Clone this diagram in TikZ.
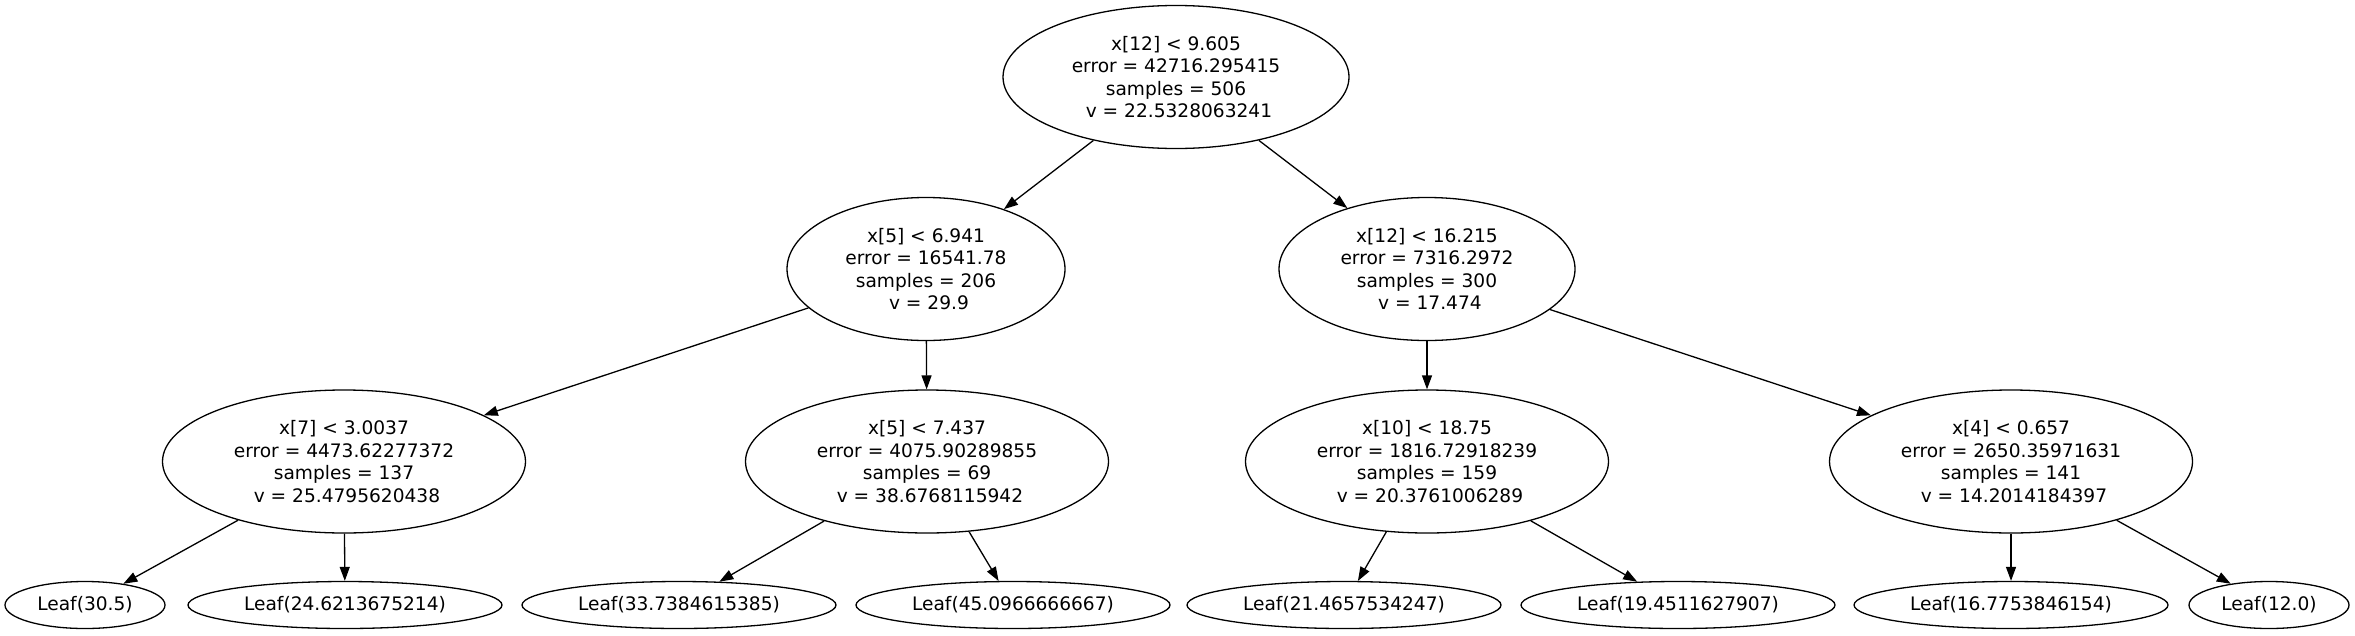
\documentclass[tikz,border=0pt]{standalone}
\usepackage{fontspec}
\setmainfont{DejaVu Sans}
\usetikzlibrary{shapes.geometric,arrows.meta}
\begin{document}
\begin{tikzpicture}[x=1pt,y=-1pt,
  every node/.style={font=\fontsize{18.6}{22.6}\selectfont},
  split/.style={draw=black,line width=1.3pt,ellipse,inner sep=0pt,align=center,minimum height=143pt},
  leaf/.style={draw=black,line width=1.3pt,ellipse,inner sep=0pt,minimum height=47pt},
  edge/.style={draw=black,line width=1.3pt,-{Triangle[length=14pt,width=10pt]}}]
\useasboundingbox (0,0) rectangle (2355,635);
\fill[white] (0,0) rectangle (2355,635);
% root
\node[split,minimum width=346pt] (r) at (1176,77) {x[12] < 9.605\\error = 42716.295415\\samples = 506\\\hspace*{0.32em}v = 22.5328063241};
% level 2
\node[split,minimum width=278pt] (a) at (926,269) {x[5] < 6.941\\error = 16541.78\\samples = 206\\\hspace*{0.32em}v = 29.9};
\node[split,minimum width=296pt] (b) at (1427,269) {x[12] < 16.215\\error = 7316.2972\\samples = 300\\\hspace*{0.32em}v = 17.474};
% level 3
\node[split,minimum width=363pt] (aa) at (344,461.5) {x[7] < 3.0037\\error = 4473.62277372\\samples = 137\\\hspace*{0.32em}v = 25.4795620438};
\node[split,minimum width=363pt] (ab) at (927,461.5) {x[5] < 7.437\\error = 4075.90289855\\samples = 69\\\hspace*{0.32em}v = 38.6768115942};
\node[split,minimum width=363pt] (ba) at (1427,461.5) {x[10] < 18.75\\error = 1816.72918239\\samples = 159\\\hspace*{0.32em}v = 20.3761006289};
\node[split,minimum width=363pt] (bb) at (2011,461.5) {x[4] < 0.657\\error = 2650.35971631\\samples = 141\\\hspace*{0.32em}v = 14.2014184397};
% leaves
\node[leaf,minimum width=160pt] (l1) at (85,605) {Leaf(30.5)};
\node[leaf,minimum width=314pt] (l2) at (345,605) {Leaf(24.6213675214)};
\node[leaf,minimum width=314pt] (l3) at (679,605) {Leaf(33.7384615385)};
\node[leaf,minimum width=314pt] (l4) at (1013,605) {Leaf(45.0966666667)};
\node[leaf,minimum width=314pt] (l5) at (1344,605) {Leaf(21.4657534247)};
\node[leaf,minimum width=314pt] (l6) at (1678,605) {Leaf(19.4511627907)};
\node[leaf,minimum width=314pt] (l7) at (2011,605) {Leaf(16.7753846154)};
\node[leaf,minimum width=160pt] (l8) at (2269,605) {Leaf(12.0)};
% edges
\draw[edge] (r) -- (a);
\draw[edge] (r) -- (b);
\draw[edge] (a) -- (aa);
\draw[edge] (a) -- (ab);
\draw[edge] (b) -- (ba);
\draw[edge] (b) -- (bb);
\draw[edge] (aa) -- (l1);
\draw[edge] (aa) -- (l2);
\draw[edge] (ab) -- (l3);
\draw[edge] (ab) -- (l4);
\draw[edge] (ba) -- (l5);
\draw[edge] (ba) -- (l6);
\draw[edge] (bb) -- (l7);
\draw[edge] (bb) -- (l8);
\end{tikzpicture}
\end{document}
